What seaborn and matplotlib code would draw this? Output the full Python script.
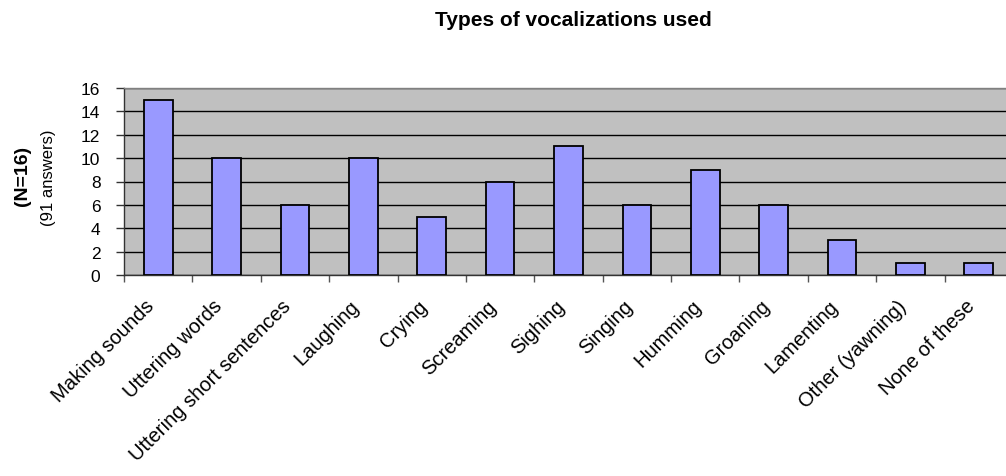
import matplotlib
matplotlib.use("Agg")
import matplotlib.pyplot as plt
import matplotlib.transforms as mtransforms
import seaborn as sns
import pandas as pd
import numpy as np

categories = ["Making sounds", "Uttering words", "Uttering short sentences", "Laughing",
              "Crying", "Screaming", "Sighing", "Singing", "Humming", "Groaning",
              "Lamenting", "Other (yawning)", "None of these"]
counts = [15, 10, 6, 10, 5, 8, 11, 6, 9, 6, 3, 1, 1]
y_ticks = [0, 2, 4, 6, 8, 10, 12, 14, 16]

sns.set_theme(style="white")
plt.rcParams["font.family"] = ["Liberation Sans", "DejaVu Sans"]
plt.rcParams["text.color"] = "black"
plt.rcParams["xtick.color"] = "black"
plt.rcParams["ytick.color"] = "black"
plt.rcParams["xtick.labelcolor"] = "black"
plt.rcParams["ytick.labelcolor"] = "black"

df = pd.DataFrame({"category": categories, "count": counts})

W, H = 1006, 477
fig = plt.figure(figsize=(W / 100, H / 100), dpi=100)
left, right, top, bottom = 124, 1013, 89, 276
ax = fig.add_axes([left / W, 1 - bottom / H, (right - left) / W, (bottom - top) / H])
ax.set_facecolor("#C0C0C0")

sns.barplot(data=df, x="category", y="count", color="#9999FF", saturation=1,
            edgecolor="black", linewidth=1.3, width=0.42, ax=ax, zorder=3)

ax.set_ylim(0, 16)
ax.set_xlim(-0.5, len(categories) - 0.5)
ax.set_yticks(y_ticks)
ax.set_yticklabels([str(v) for v in y_ticks], fontsize=12.5)
ax.yaxis.grid(True, color="black", linewidth=1.0, zorder=1)
ax.set_axisbelow(True)

# labels at category centres, tick marks at the boundaries between categories
ax.set_xticks(np.arange(len(categories)))
ax.set_xticklabels(categories, rotation=45, ha="right", va="center",
                   rotation_mode="anchor", fontsize=14.5)
ax.tick_params(axis="x", which="major", length=0, pad=20)
shift = mtransforms.ScaledTranslation(-0.07, 0, fig.dpi_scale_trans)
for lab in ax.get_xticklabels():
    lab.set_transform(lab.get_transform() + shift)
ax.set_xticks(np.arange(-0.5, len(categories), 1.0), minor=True)
ax.tick_params(axis="x", which="minor", length=5, width=1, color="#555555",
               direction="out", bottom=True)
ax.tick_params(axis="y", length=6, width=1, color="#333333", direction="out",
               left=True, pad=11)

for side in ["top", "right"]:
    ax.spines[side].set_color("#808080")
    ax.spines[side].set_linewidth(1)
for side in ["left", "bottom"]:
    ax.spines[side].set_color("#333333")
    ax.spines[side].set_linewidth(1)

ax.set_xlabel("")
ax.set_ylabel("")

fig.text(573 / W, 1 - 21 / H, "Types of vocalizations used", ha="center", va="center",
         fontsize=15, fontweight="bold")
fig.text(22 / W, 1 - 176 / H, "(N=16)", rotation=90, ha="center", va="center",
         fontsize=14, fontweight="bold")
fig.text(49 / W, 1 - 178 / H, "(91 answers)", rotation=90, ha="center", va="center",
         fontsize=12)

fig.savefig("out.png", dpi=100)
